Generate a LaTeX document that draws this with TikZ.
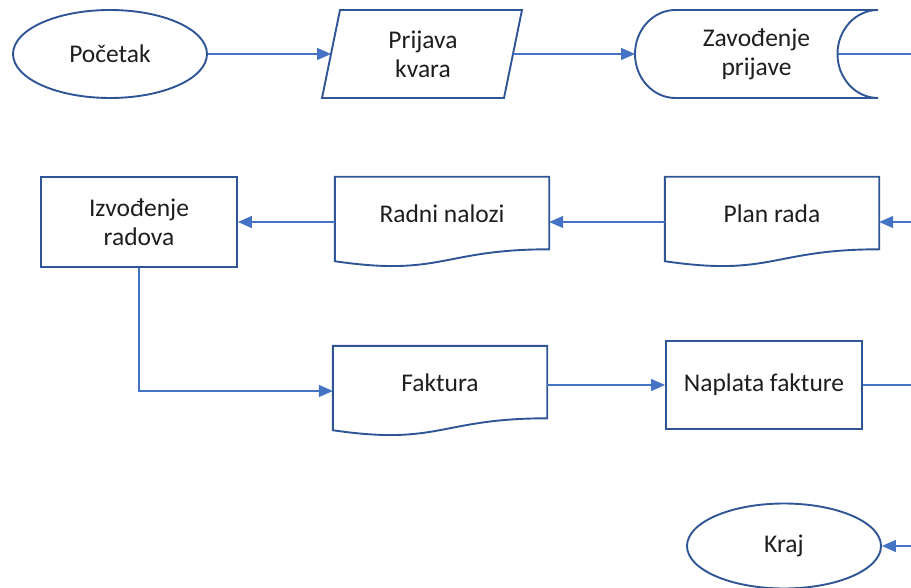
\documentclass[tikz,border=0pt]{standalone}
\usepackage{fontspec}
\setmainfont{Carlito}
\usetikzlibrary{arrows.meta,shapes.geometric,calc}
\definecolor{shapeline}{HTML}{2F5597}
\definecolor{linkline}{HTML}{4472C4}
\definecolor{ink}{HTML}{1E1E1E}

% document symbol with a wavy lower edge, drawn around an empty frame node
\newcommand\docoutline[1]{%
  \draw[outline] (#1.north west) -- (#1.north east)
    -- ($(#1.north east)!0.802!(#1.south east)$)
    .. controls ($(#1.north)!0.802!(#1.south)$) and ($(#1.north)!1.1075!(#1.south)$)
    .. ($(#1.north west)!0.934!(#1.south west)$) -- cycle;}

\begin{document}
\begin{tikzpicture}[x=1pt,y=-1pt,
  outline/.style={draw=shapeline,line width=1.9pt},
  txt/.style={font=\fontsize{25.5}{29}\selectfont,align=center,text=ink,inner sep=0pt},
  terminal/.style={ellipse,outline,fill=white,minimum width=194pt,minimum height=88pt,inner sep=0pt},
  process/.style={rectangle,outline,fill=white,inner sep=0pt},
  docframe/.style={rectangle,draw=none,minimum width=214pt,minimum height=90pt,inner sep=0pt},
  link/.style={draw=linkline,line width=1.4pt},
  arr/.style={link,-{Triangle[length=14pt,width=12pt]}}]
\useasboundingbox (0,0) rectangle (911,588);

% ---- first row ----
\node[terminal,txt] (start) at (110,54) {Početak};

% Prijava kvara (input/output parallelogram)
\draw[outline,fill=white] (340,10) -- (522,10) -- (504,98) -- (322,98) -- cycle;
\node[txt] (report) at (423,54) {Prijava\\kvara};
\coordinate (report-in) at (331,54);
\coordinate (report-out) at (513,54);

% Zavodenje prijave (stored data)
\draw[outline,fill=white] (675.5,10) -- (878,10)
  arc[start angle=270,end angle=90,x radius=40.5,y radius=44]
  -- (675.5,98)
  arc[start angle=90,end angle=270,x radius=40.5,y radius=44] -- cycle;
\node[txt] (log) at (756.5,54) {Zavođenje\\prijave};
\coordinate (log-in) at (635,54);
\coordinate (log-out) at (837.5,54);
\coordinate (exit1) at (911,54);

% ---- second row ----
\node[process,txt,minimum width=196pt,minimum height=90pt] (work) at (139,222) {Izvođenje\\radova};

\node[docframe] (orders) at (442,222) {};
\docoutline{orders}
\node[txt] (orders-text) at ($(orders.north)!0.41!(orders.south)$) {Radni nalozi};

\node[docframe] (plan) at (772,222) {};
\docoutline{plan}
\node[txt] (plan-text) at ($(plan.north)!0.41!(plan.south)$) {Plan rada};
\coordinate (entry2) at (911,222);

% ---- third row ----
\node[docframe] (invoice) at (440,391) {};
\docoutline{invoice}
\node[txt] (invoice-text) at ($(invoice.north)!0.41!(invoice.south)$) {Faktura};

\node[process,txt,minimum width=196pt,minimum height=88pt] (pay) at (764,385) {Naplata fakture};
\coordinate (exit3) at (911,385);

% ---- fourth row ----
\node[terminal,txt,minimum height=85pt] (end) at (784,546) {Kraj};
\coordinate (entry4) at (911,546);

% ---- connectors ----
\draw[arr] (start.east) -- (report-in);
\draw[arr] (report-out) -- (log-in);
\draw[link] (log-out) -- (exit1);
\draw[arr] (entry2) -- (plan.east);
\draw[arr] (plan.west) -- (orders.east);
\draw[arr] (orders.west) -- (work.east);
\draw[arr] (work.south) |- (invoice.west);
\draw[arr] (invoice.east |- pay.west) -- (pay.west);
\draw[link] (pay.east) -- (exit3);
\draw[arr] (entry4) -- (end.east);
\end{tikzpicture}
\end{document}
